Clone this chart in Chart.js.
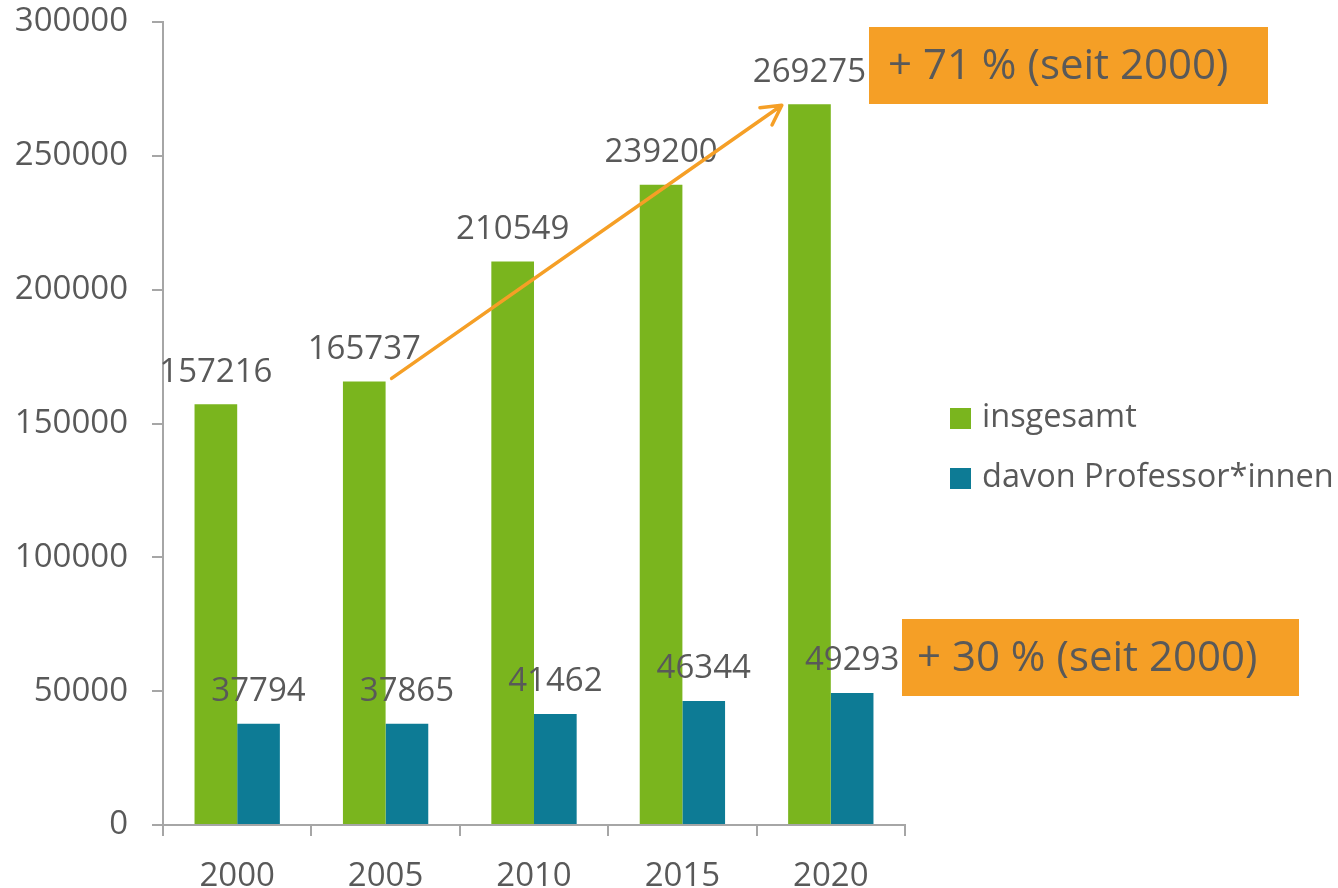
<!DOCTYPE html>
<html>
<head>
<meta charset="utf-8">
<script src="https://cdn.jsdelivr.net/npm/chart.js@4"></script>
<style>
  body { margin: 0; background: #fff; }
  #wrap { width: 1338px; height: 888px; }
</style>
</head>
<body>
<div id="wrap"><canvas id="staffChart" width="1338" height="888"></canvas></div>
<script>
const years = ['2000', '2005', '2010', '2015', '2020'];
const totalStaff = [157216, 165737, 210549, 239200, 269275];
const professors = [37794, 37865, 41462, 46344, 49293];
const seriesNames = ['insgesamt', 'davon Professor*innen'];
const notes = ['+ 71 % (seit 2000)', '+ 30 % (seit 2000)'];

const GREEN = '#7AB51E';
const TEAL = '#0D7B95';
const ORANGE = '#F59F26';
const TEXT = '#595959';
const AXIS = '#A6A6A6';
const FONT = '"Open Sans", sans-serif';

// numbers above each bar
const valueLabels = {
  id: 'valueLabels',
  afterDatasetsDraw(chart) {
    const ctx = chart.ctx;
    ctx.save();
    ctx.font = '33px ' + FONT;
    ctx.fillStyle = TEXT;
    ctx.textAlign = 'center';
    ctx.textBaseline = 'middle';
    chart.data.datasets.forEach((ds, i) => {
      chart.getDatasetMeta(i).data.forEach((bar, j) => {
        ctx.fillText(String(ds.data[j]), bar.x, bar.y - 32);
      });
    });
    ctx.restore();
  }
};

// legend on the right
const sideLegend = {
  id: 'sideLegend',
  afterDraw(chart) {
    const ctx = chart.ctx;
    ctx.save();
    ctx.font = '32.5px ' + FONT;
    ctx.textBaseline = 'middle';
    chart.data.datasets.forEach((ds, i) => {
      const y = 418 + i * 60;
      ctx.fillStyle = ds.backgroundColor;
      ctx.fillRect(950, y - 10, 21, 21);
      ctx.fillStyle = TEXT;
      ctx.fillText(ds.label, 982, y);
    });
    ctx.restore();
  }
};

// growth arrow and the two orange boxes
const growthNotes = {
  id: 'growthNotes',
  afterDraw(chart) {
    const ctx = chart.ctx;
    const x = chart.scales.x, y = chart.scales.y;
    const x1 = x.getPixelForValue(1) + 6, y1 = y.getPixelForValue(totalStaff[1]) - 3;
    const x2 = x.getPixelForValue(4) - 49, y2 = y.getPixelForValue(totalStaff[4]) + 1;
    ctx.save();
    ctx.strokeStyle = ORANGE;
    ctx.lineWidth = 3.5;
    ctx.lineCap = 'round';
    ctx.beginPath();
    ctx.moveTo(x1, y1);
    ctx.lineTo(x2, y2);
    const ang = Math.atan2(y2 - y1, x2 - x1);
    const len = 22;
    ctx.moveTo(x2, y2);
    ctx.lineTo(x2 - len * Math.cos(ang - 0.5), y2 - len * Math.sin(ang - 0.5));
    ctx.moveTo(x2, y2);
    ctx.lineTo(x2 - len * Math.cos(ang + 0.5), y2 - len * Math.sin(ang + 0.5));
    ctx.stroke();

    ctx.font = '42px ' + FONT;
    ctx.textBaseline = 'middle';
    ctx.fillStyle = ORANGE;
    ctx.fillRect(869, 27, 399, 77);
    ctx.fillRect(902, 619, 397, 77);
    ctx.fillStyle = TEXT;
    ctx.fillText(notes[0], 888, 67);
    ctx.fillText(notes[1], 917, 659);
    ctx.restore();
  }
};

new Chart(document.getElementById('staffChart').getContext('2d'), {
  type: 'bar',
  data: {
    labels: years,
    datasets: [
      { label: seriesNames[0], data: totalStaff, backgroundColor: GREEN },
      { label: seriesNames[1], data: professors, backgroundColor: TEAL }
    ]
  },
  options: {
    responsive: false,
    animation: false,
    layout: { padding: { top: 22, right: 433, left: 0, bottom: 0 } },
    categoryPercentage: 0.575,
    barPercentage: 1,
    plugins: {
      legend: { display: false },
      tooltip: { enabled: false }
    },
    scales: {
      x: {
        afterFit(scale) { scale.height = 63; },
        border: { color: AXIS, width: 2 },
        grid: { offset: true, drawOnChartArea: false, drawTicks: true, tickLength: 11, color: AXIS, lineWidth: 2 },
        ticks: { color: TEXT, font: { family: FONT, size: 33 }, padding: 21 }
      },
      y: {
        min: 0,
        max: 300000,
        afterFit(scale) {
          scale.width = 163;
          scale.paddingTop = 0;
          scale.paddingBottom = 0;
        },
        border: { color: AXIS, width: 2 },
        grid: { drawOnChartArea: false, drawTicks: true, tickLength: 11, color: AXIS, lineWidth: 2 },
        ticks: {
          stepSize: 50000,
          color: TEXT,
          font: { family: FONT, size: 33 },
          padding: 24,
          callback: v => String(v)
        }
      }
    }
  },
  plugins: [valueLabels, sideLegend, growthNotes]
});
</script>
</body>
</html>
